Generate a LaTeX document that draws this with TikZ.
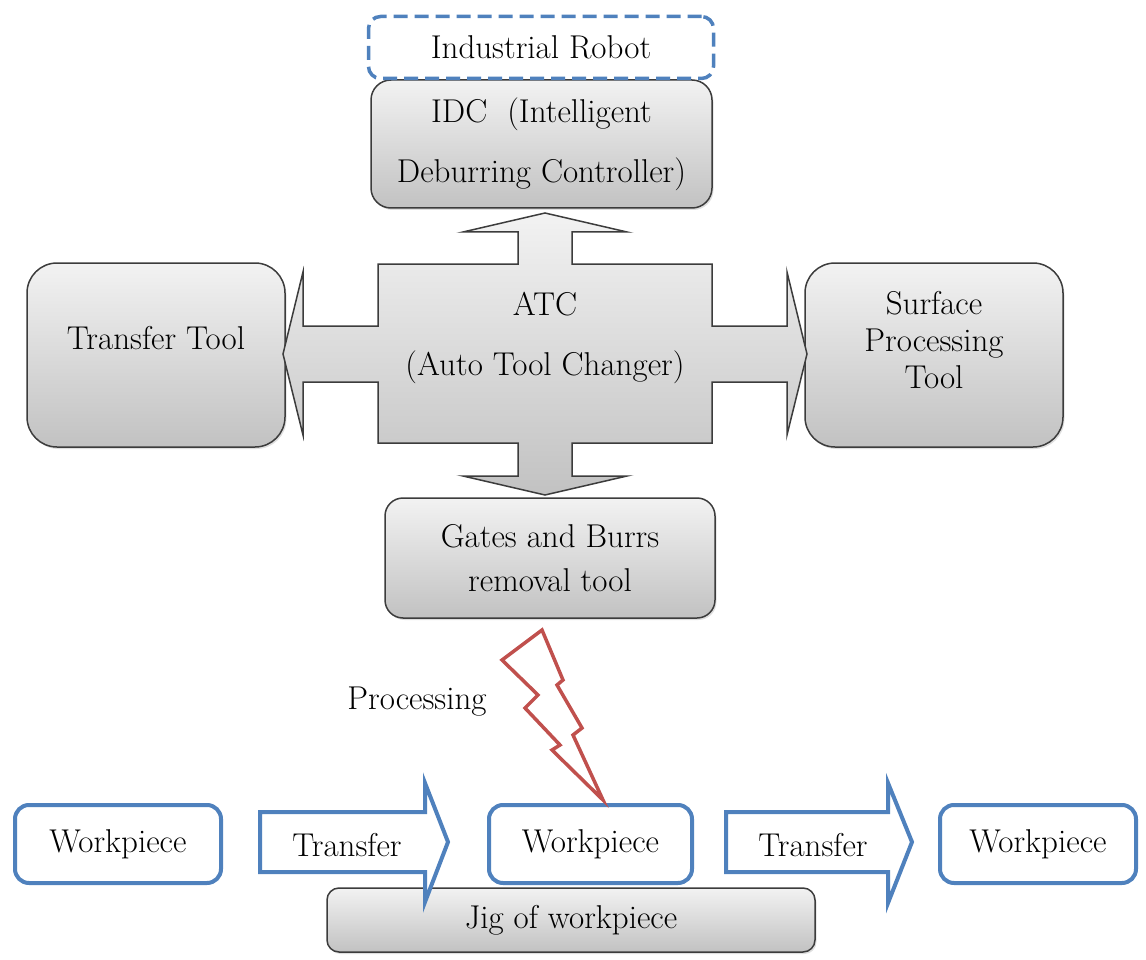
\documentclass[tikz,border=0pt]{standalone}
\usetikzlibrary{positioning, calc, shadows}
\definecolor{wpblue}{RGB}{79,129,189}
\definecolor{boltred}{RGB}{192,80,77}
\definecolor{edgegray}{RGB}{60,60,60}
\newcommand{\leadfont}[1]{\rmfamily\fontsize{33}{#1}\selectfont}
\tikzset{
  graybox/.style={rectangle, draw=edgegray, line width=1.5pt, top color=black!5,
                  bottom color=black!24, rounded corners=18pt, align=center,
                  font=\leadfont{44},
                  drop shadow={opacity=0.25, shadow xshift=1.5pt, shadow yshift=-2pt}},
  bluebox/.style={rectangle, draw=wpblue, line width=4pt, fill=white,
                  rounded corners=14pt, minimum height=78pt, font=\leadfont{40}},
  robotbox/.style={rectangle, draw=wpblue, line width=3.5pt, dash pattern=on 14pt off 7pt,
                   fill=white, rounded corners=12pt, font=\leadfont{40}},
  crossarrow/.style={draw=edgegray, line width=1.5pt, top color=black!5, bottom color=black!24,
                     line join=miter},
  movearrow/.style={draw=wpblue, line width=4pt, fill=white, line join=miter},
  bolt/.style={draw=boltred, line width=3.5pt, line join=miter},
  plainlabel/.style={font=\leadfont{40}},
}
\begin{document}
\begin{tikzpicture}[x=1pt, y=-1pt]
  \useasboundingbox (0,0) rectangle (1146,960);

  % robot head and controller
  \node[graybox, minimum width=341, minimum height=128, rounded corners=20pt, font=\leadfont{60}]
    (idc) at (541.5,144) {IDC~ (Intelligent\\Deburring Controller)};
  \node[robotbox, minimum width=345, minimum height=62] (robot) at (541,47.5) {Industrial Robot};

  % tools on both sides
  \node[graybox, minimum width=258, minimum height=184, rounded corners=30pt,
        label={[yshift=17pt, font=\leadfont{40}]center:Transfer Tool}] (trtool) at (156,355) {};
  \node[graybox, minimum width=258, minimum height=184, rounded corners=30pt,
        label={[yshift=15pt, align=center, font=\leadfont{37}]center:Surface\\Processing\\Tool}]
    (surf) at (934,355) {};

  % ATC with its four block arrows
  \path[crossarrow] (378,264) -- (518,264) -- (518,232) -- (463,232) -- (545,213)
    -- (627,232) -- (572,232) -- (572,264) -- (712,264) -- (712,326) -- (787,326)
    -- (787,272) -- (807,354) -- (787,435) -- (787,382) -- (712,382) -- (712,443)
    -- (572,443) -- (572,476) -- (627,476) -- (545,495) -- (463,476) -- (518,476)
    -- (518,443) -- (378,443) -- (378,382) -- (303,382) -- (303,435) -- (283,354)
    -- (303,272) -- (303,326) -- (378,326) -- cycle;
  \node[font=\leadfont{60}, align=center] (atc) at (545,338) {ATC\\(Auto Tool Changer)};

  \node[graybox, minimum width=330, minimum height=120] (gates) at (550,558)
    {Gates and Burrs\\removal tool};

  % workpiece line
  \node[graybox, minimum width=488, minimum height=64, rounded corners=12pt]
    (jig) at (571,920) {Jig of workpiece};
  \node[bluebox, minimum width=206] (wp1) at (118,844) {Workpiece};
  \node[bluebox, minimum width=203] (wp2) at (590.5,844) {Workpiece};
  \node[bluebox, minimum width=196] (wp3) at (1038,844) {Workpiece};

  \draw[movearrow] (260,812) -- (425,812) -- (425,783) -- (448,842) -- (425,902)
    -- (425,872) -- (260,872) -- cycle;
  \node[plainlabel] (move1) at (347,845) {Transfer};
  \draw[movearrow] (726,812) -- (888,812) -- (888,783) -- (912,842) -- (888,903)
    -- (888,872) -- (726,872) -- cycle;
  \node[plainlabel] (move2) at (813,845) {Transfer};

  % processing flash
  \draw[bolt] (542,630) -- (502,660) -- (538,695) -- (525,708) -- (560,745) -- (552,750)
    -- (603,800) -- (573,735) -- (582,728) -- (557,685) -- (563,680) -- cycle;
  \node[plainlabel] (proc) at (417,702) {Processing};

\end{tikzpicture}
\end{document}
